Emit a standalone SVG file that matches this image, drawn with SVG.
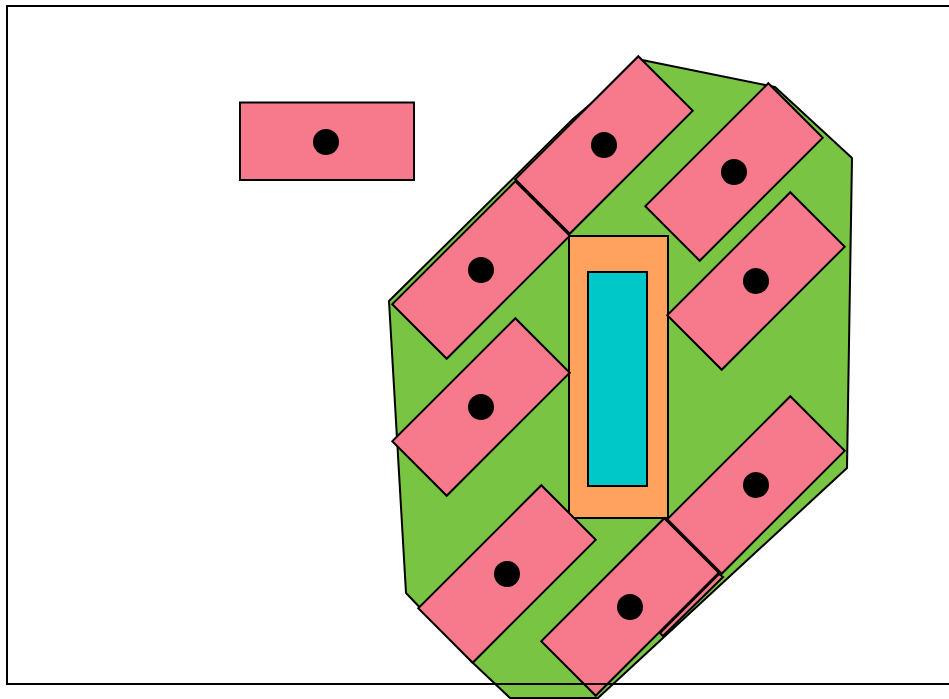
<svg xmlns="http://www.w3.org/2000/svg" width="949" height="699" viewBox="0 0 949 699">
<style>
.pk{fill:#f77a8c;stroke:#000;stroke-width:2;stroke-linejoin:miter}
.dot{fill:#000}
.gr{fill:#7ac443;stroke:#000;stroke-width:2;stroke-linejoin:round}
.or{fill:#ffa25e;stroke:#000;stroke-width:2}
.cy{fill:#00c8c9;stroke:#000;stroke-width:2}
.fr{fill:none;stroke:#000;stroke-width:2}
</style>
<defs>
<g id="tile"><rect class="pk" x="-87" y="-38.5" width="174" height="77"/><circle class="dot" cx="0" cy="0" r="13"/></g>
</defs>
<rect x="0" y="0" width="949" height="699" fill="#fff"/>
<g id="zone"><polygon class="gr" points="642,60 775,87 852,158 847,468 598,698 510,698 473,663 406,593 389,301 573,119"/></g>
<g id="core">
<rect class="or" x="569" y="236" width="99" height="282"/>
<rect class="cy" x="588" y="272" width="59" height="214"/>
</g>
<g id="single"><rect class="pk" x="240" y="102.5" width="174" height="77.5"/><circle class="dot" cx="326" cy="142" r="13"/></g>
<g id="t1" transform="translate(604,145) rotate(-45)"><use href="#tile"/></g>
<g id="t2" transform="translate(734,172) rotate(-45)"><use href="#tile"/></g>
<g id="t3" transform="translate(481,270) rotate(-45)"><use href="#tile"/></g>
<g id="t4" transform="translate(756,281) rotate(-45)"><use href="#tile"/></g>
<g id="t5" transform="translate(481,407) rotate(-45)"><use href="#tile"/></g>
<g id="t6" transform="translate(756,485) rotate(-45)"><use href="#tile"/></g>
<g id="t7" transform="translate(507,574) rotate(-45)"><use href="#tile"/></g>
<g id="t8" transform="translate(630,607) rotate(-45)"><use href="#tile"/></g>
<g id="sliver"><polygon class="pk" stroke-width="1.2" points="719,574 723,577 663,636 660,633"/></g>
<g id="frame"><rect class="fr" x="7" y="6" width="960" height="678"/></g>
</svg>
